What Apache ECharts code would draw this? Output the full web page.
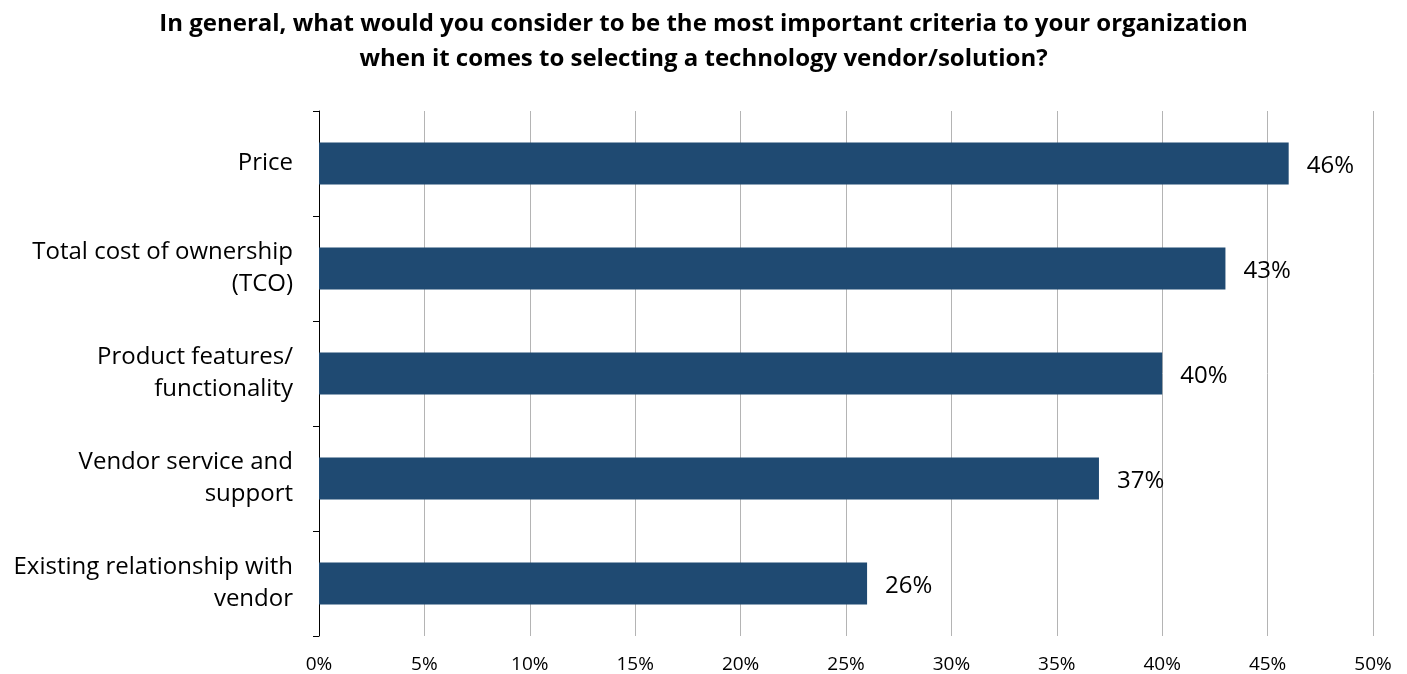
<!DOCTYPE html>
<html>
<head>
<meta charset="utf-8">
<script src="https://cdn.jsdelivr.net/npm/echarts@6/dist/echarts.min.js"></script>
<style>
  html, body { margin: 0; padding: 0; background: #fff; }
  #chart { width: 1407px; height: 674px; }
</style>
</head>
<body>
<div id="chart"></div>
<script>
var titleText = 'In general, what would you consider to be the most important criteria to your organization\nwhen it comes to selecting a technology vendor/solution?'
var categories = [
  'Price',
  'Total cost of ownership\n(TCO)',
  'Product features/\nfunctionality',
  'Vendor service and\nsupport',
  'Existing relationship with\nvendor'
]
var values = [46, 43, 40, 37, 26]
var xTicks = { min: 0, max: 50, step: 5 }

var font = '"Open Sans", Lato, sans-serif'
var chart = echarts.init(document.getElementById('chart'))

chart.setOption({
  animation: false,
  title: {
    text: titleText,
    left: 'center',
    top: 2,
    textStyle: {
      fontFamily: font,
      fontWeight: 'bold',
      fontSize: 24,
      lineHeight: 35,
      color: '#000'
    }
  },
  grid: {
    left: 319,
    right: 34,
    top: 111,
    bottom: 38
  },
  xAxis: {
    type: 'value',
    min: xTicks.min,
    max: xTicks.max,
    interval: xTicks.step,
    axisLine: { show: false },
    axisTick: { show: false },
    axisLabel: {
      formatter: '{value}%',
      margin: 19,
      fontFamily: font,
      fontSize: 19,
      color: '#000'
    },
    splitLine: {
      lineStyle: { color: '#b4b4b4', width: 1 }
    }
  },
  yAxis: {
    type: 'category',
    data: categories,
    inverse: true,
    axisLine: { lineStyle: { color: '#000', width: 1 } },
    axisTick: { show: true, length: 6, lineStyle: { color: '#000' } },
    axisLabel: {
      margin: 26,
      padding: [8, 0, 0, 0],
      fontFamily: font,
      fontSize: 24,
      lineHeight: 32,
      color: '#000',
      align: 'right'
    }
  },
  series: [{
    type: 'bar',
    data: values,
    barWidth: '40%',
    itemStyle: { color: '#1f4a72' },
    label: {
      show: true,
      position: 'right',
      distance: 18,
      offset: [0, 3],
      formatter: '{c}%',
      fontFamily: font,
      fontSize: 24,
      color: '#000'
    }
  }]
})
</script>
</body>
</html>
